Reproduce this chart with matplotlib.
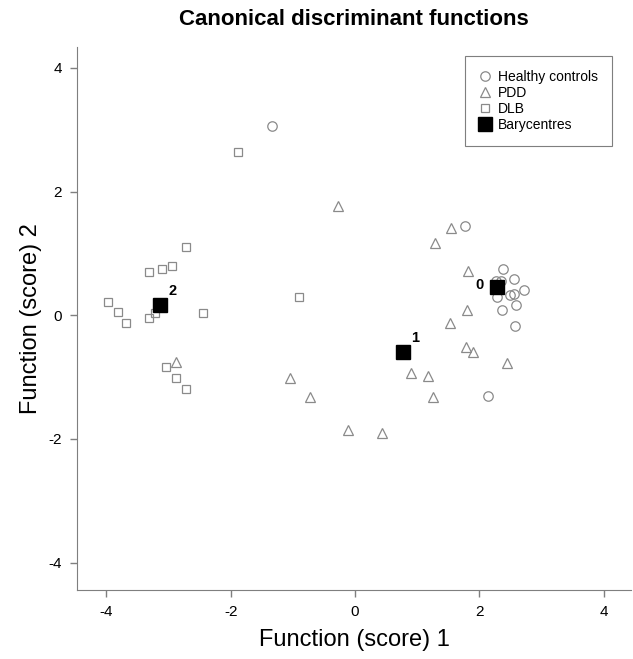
import matplotlib
matplotlib.use("Agg")
import matplotlib.pyplot as plt
import numpy as np

plt.rcParams['font.family'] = ['Liberation Sans', 'DejaVu Sans']
plt.rcParams['axes.unicode_minus'] = False

# Discriminant scores
hc_x = [2.38, 2.55, 2.35, 2.27, 2.71, 2.55, 2.49, 2.29, 2.59, 2.36, 2.58, 1.76, 2.13, -1.34]
hc_y = [0.75, 0.58, 0.55, 0.55, 0.41, 0.35, 0.33, 0.29, 0.17, 0.09, -0.18, 1.45, -1.30, 3.06]

pdd_x = [1.55, 1.29, 1.81, 1.80, 1.53, 1.78, 1.89, 2.45, 1.18, 1.26, 0.90, 0.43, -0.12, -0.72,
         -1.04, -0.28, -2.88]
pdd_y = [1.41, 1.17, 0.72, 0.09, -0.13, -0.52, -0.60, -0.77, -0.99, -1.32, -0.93, -1.90, -1.85,
         -1.32, -1.02, 1.76, -0.75]

dlb_x = [-2.72, -2.94, -3.10, -3.31, -3.98, -3.82, -3.68, -3.22, -3.32, -2.45, -3.04, -2.88,
         -2.72, -1.88, -0.91]
dlb_y = [1.10, 0.80, 0.75, 0.70, 0.22, 0.05, -0.13, 0.03, -0.05, 0.03, -0.84, -1.01, -1.20,
         2.64, 0.29]

bary_x = [2.29, 0.77, -3.14]
bary_y = [0.45, -0.59, 0.17]
bary_labels = ['0', '1', '2']

ticks = [-4, -2, 0, 2, 4]

grey = '#7f7f7f'
mark_grey = '#8a8a8a'

fig = plt.figure(figsize=(6.33, 6.59), dpi=100)
ax = fig.add_axes([0.122, 0.105, 0.875, 0.824])

ax.plot(hc_x, hc_y, 'o', ms=6.8, mfc='none', mec=mark_grey, mew=0.9, label='Healthy controls')
ax.plot(pdd_x, pdd_y, '^', ms=7.2, mfc='none', mec=mark_grey, mew=0.9, label='PDD')
ax.plot(dlb_x, dlb_y, 's', ms=6.3, mfc='none', mec=mark_grey, mew=0.9, label='DLB')
ax.plot(bary_x, bary_y, 's', ms=10.5, mfc='black', mec='black', label='Barycentres')

# labels next to the barycentres
offsets = [(-13, 2), (9, 10), (9, 10)]
for x, y, lab, off in zip(bary_x, bary_y, bary_labels, offsets):
    ax.annotate(lab, (x, y), xytext=off, textcoords='offset points',
                ha='center', va='center', fontsize=10.5, fontweight='bold')

ax.set_xlim(-4.47, 4.44)
ax.set_ylim(-4.44, 4.34)
ax.set_xticks(ticks)
ax.set_yticks(ticks)
ax.tick_params(direction='out', length=5, width=1, color=grey, labelsize=11, pad=6)

for side in ['top', 'right']:
    ax.spines[side].set_visible(False)
for side in ['left', 'bottom']:
    ax.spines[side].set_color(grey)

ax.set_xlabel('Function (score) 1', fontsize=17, labelpad=7)
ax.set_ylabel('Function (score) 2', fontsize=17, labelpad=5)
ax.set_title('Canonical discriminant functions', fontsize=16, fontweight='bold', pad=16)

leg = ax.legend(loc='upper right', bbox_to_anchor=(0.967, 0.915), bbox_transform=fig.transFigure,
                borderaxespad=0, fancybox=False, edgecolor=grey, fontsize=10,
                handlelength=0.9, handletextpad=0.5, labelspacing=0.15, borderpad=1.0,
                framealpha=1)
leg.get_frame().set_linewidth(0.8)

fig.savefig('out.png', dpi=100)
